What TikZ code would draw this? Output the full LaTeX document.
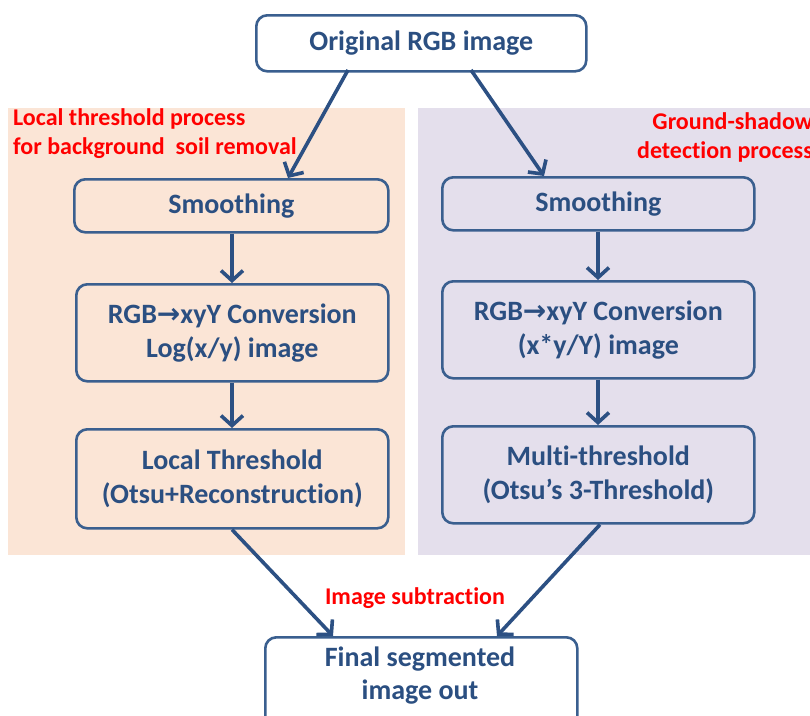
\documentclass[tikz,border=0pt]{standalone}
\usepackage{fontspec}
\setmainfont{Carlito}[Ligatures={NoCommon}]
\newfontfamily\symfont{DejaVu Sans}
\usetikzlibrary{arrows.meta}
\definecolor{boxline}{HTML}{3A5F8F}
\definecolor{boxtext}{HTML}{2B4F81}
\definecolor{arrowcol}{HTML}{2C5083}
\definecolor{peach}{HTML}{FBE5D6}
\definecolor{lavender}{HTML}{E4DFEC}
\definecolor{redlabel}{HTML}{FF0000}
\tikzset{
  procbox/.style={draw=boxline, line width=2.6pt, rounded corners=11pt, inner sep=0pt,
    text=boxtext, font=\fontsize{28}{34}\selectfont\bfseries, align=center, anchor=north west},
  flow/.style={draw=arrowcol, line width=3.6pt, -{Straight Barb[length=10pt,width=22pt,line width=3.6pt]}},
  redtxt/.style={text=redlabel, font=\fontsize{24}{29}\selectfont\bfseries, inner sep=0pt}
}
\newcommand{\rarr}{{\symfont\bfseries\textrightarrow}}
\begin{document}
\begin{tikzpicture}[x=1pt,y=-1pt]
\useasboundingbox (0,0) rectangle (810,715);
\fill[white] (0,0) rectangle (810,715);
% panels
\fill[peach] (8,108) rectangle (405,555);
\fill[lavender] (418,108) rectangle (812,555);
% boxes
\node[procbox, minimum width=330pt, minimum height=56pt] (orig) at (255,14) {Original RGB image};
\node[procbox, minimum width=314pt, minimum height=53pt] (ls) at (73,178) {Smoothing};
\node[procbox, minimum width=312pt, minimum height=53pt] (rs) at (441,176) {Smoothing};
\node[procbox, minimum width=312pt, minimum height=97pt] (lc) at (75,283) {RGB\rarr xyY Conversion\\Log(x/y) image};
\node[procbox, minimum width=312pt, minimum height=97pt] (rc) at (441,280) {RGB\rarr xyY Conversion\\(x*y/Y) image};
\node[procbox, minimum width=312pt, minimum height=99pt] (lt) at (75,428) {Local Threshold\\(Otsu+Reconstruction)};
\node[procbox, minimum width=312pt, minimum height=97pt] (rt) at (441,425) {Multi-threshold\\(Otsu’s 3-Threshold)};
\node[procbox, minimum width=312pt, minimum height=100pt, anchor=north west] (fin) at (264,636) {};
\node[text=boxtext, font=\fontsize{28}{33}\selectfont\bfseries, align=center] (fintxt) at (420,676) {Final segmented\\image out};
% labels
\node[redtxt, align=left, anchor=north west] (lab1) at (13,108) {Local threshold process\\for background\ \ soil removal};
\begin{scope}
\clip (0,0) rectangle (810,715);
\node[redtxt, align=right, anchor=north east] (lab2) at (813,112) {Ground-shadow\\detection process};
\end{scope}
\node[redtxt, anchor=center] (lab3) at (415,598) {Image subtraction};
% connectors
\coordinate (o1) at (348,70);
\coordinate (o2) at (471,70);
\draw[flow] (o1) -- (ls.north -| 288,0);
\draw[flow] (o2) -- (rs.north -| 544,0);
\draw[flow] (ls.south -| 232,0) -- (lc.north -| 232,0);
\draw[flow] (rs.south -| 598,0) -- (rc.north -| 598,0);
\draw[flow] (lc.south -| 232,0) -- (lt.north -| 232,0);
\draw[flow] (rc.south -| 598,0) -- (rt.north -| 598,0);
\draw[flow] (lt.south -| 232,0) -- (fin.north -| 333,0);
\draw[flow] (rt.south -| 600,0) -- (fin.north -| 497,0);
\end{tikzpicture}
\end{document}
